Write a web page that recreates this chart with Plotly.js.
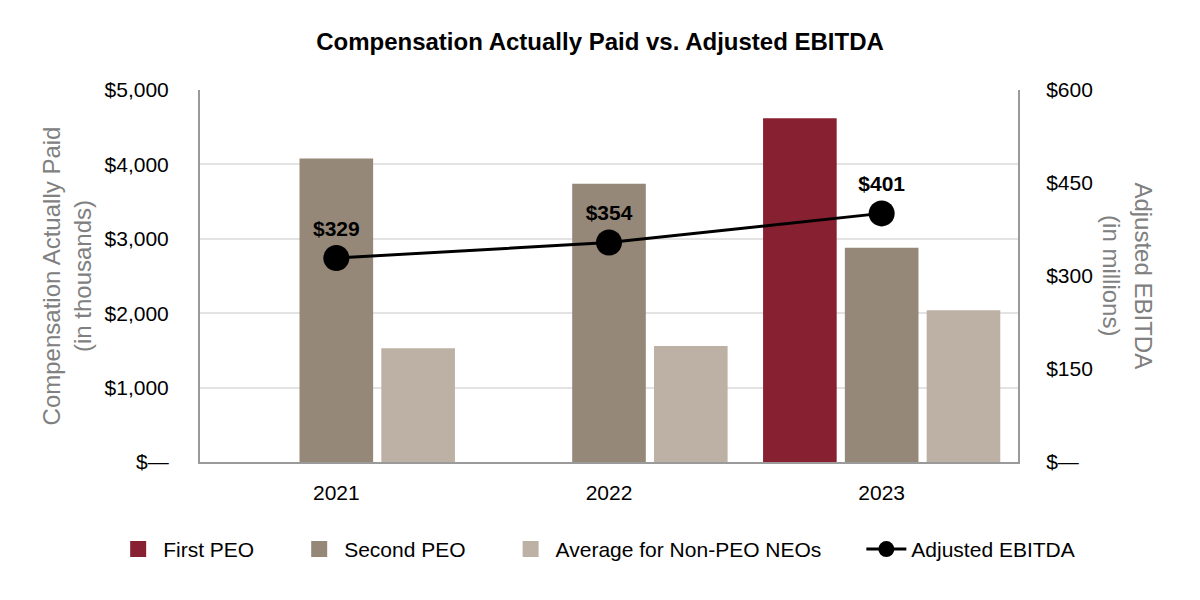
<!DOCTYPE html>
<html>
<head>
<meta charset="utf-8">
<script src="https://cdn.plot.ly/plotly-3.0.1.min.js"></script>
<style>html,body{margin:0;padding:0;background:#fff;}#chart{width:1200px;height:600px;}</style>
</head>
<body>
<div id="chart"></div>
<script>
const years = ["2021", "2022", "2023"];
const firstPEO = [null, null, 4620];
const secondPEO = [4080, 3740, 2880];
const nonPEO = [1530, 1560, 2040];
const ebitda = [329, 354, 401];
const ebitdaLabels = ["$329", "$354", "$401"];
const leftTickVals = [0, 1000, 2000, 3000, 4000, 5000];
const leftTickText = ["$—", "$1,000", "$2,000", "$3,000", "$4,000", "$5,000"];
const rightTickVals = [0, 150, 300, 450, 600];
const rightTickText = ["$—", "$150", "$300", "$450", "$600"];
const seriesNames = ["First PEO", "Second PEO", "Average for Non-PEO NEOs", "Adjusted EBITDA"];
const seriesColors = ["#872131", "#958879", "#BDB1A5", "#000000"];

const FONT = "Liberation Sans, Arial, sans-serif";
const PAD = "\u00a0\u00a0\u00a0\u00a0\u00a0\u00a0";

const traces = [
  {type: "bar", name: seriesNames[0], x: years, y: firstPEO, marker: {color: seriesColors[0]}, showlegend: false},
  {type: "bar", name: seriesNames[1], x: years, y: secondPEO, marker: {color: seriesColors[1]}, showlegend: false},
  {type: "bar", name: seriesNames[2], x: years, y: nonPEO, marker: {color: seriesColors[2]}, showlegend: false},
  {type: "scatter", mode: "lines+markers+text", name: seriesNames[3], x: years, y: ebitda, yaxis: "y2",
   line: {color: "#000", width: 3}, marker: {color: "#000", size: 26},
   text: ebitdaLabels, textposition: "top center", cliponaxis: false, showlegend: false,
   textfont: {family: FONT, size: 21, color: "#000", weight: "bold"}}
];
// legend entries
for (let i = 0; i < 3; i++) {
  traces.push({type: "scatter", mode: "markers", name: seriesNames[i] + PAD, x: [null], y: [null],
    marker: {symbol: "square", size: 22, color: seriesColors[i]}, showlegend: true, legendrank: i + 1});
}
traces.push({type: "scatter", mode: "lines+markers", name: seriesNames[3], x: [null], y: [null], yaxis: "y2",
  line: {color: "#000", width: 3}, marker: {color: "#000", size: 22}, showlegend: true, legendrank: 4});

const layout = {
  width: 1200, height: 600,
  margin: {l: 200, r: 182, t: 90, b: 138},
  paper_bgcolor: "#fff", plot_bgcolor: "#fff",
  font: {family: FONT, size: 21, color: "#000"},
  title: {text: "<b>Compensation Actually Paid vs. Adjusted EBITDA</b>", x: 0.5, xref: "container", y: 0.93, yref: "container", yanchor: "middle", font: {size: 24, color: "#000"}},
  barmode: "group", bargap: 0.1, bargroupgap: 0.1,
  xaxis: {type: "category", showline: true, linecolor: "#9a9a9a", linewidth: 2, ticks: "", ticklabelstandoff: 11, tickfont: {size: 21}},
  yaxis: {range: [0, 5000], tickvals: leftTickVals, ticktext: leftTickText, showgrid: true, gridcolor: "#e3e3e3", gridwidth: 2,
          showline: true, linecolor: "#9a9a9a", linewidth: 2, zeroline: false, ticklabelstandoff: 25, tickfont: {size: 21},
          title: {text: "Compensation Actually Paid<br>(in thousands)", font: {size: 24, color: "#808080"}, standoff: 6}},
  yaxis2: {range: [0, 600], tickvals: rightTickVals, ticktext: rightTickText, overlaying: "y", side: "right", showgrid: false,
           showline: true, linecolor: "#9a9a9a", linewidth: 2, zeroline: false, ticklabelstandoff: 22, tickfont: {size: 21}},
  legend: {orientation: "h", xref: "paper", yref: "paper", x: 1.076, xanchor: "right", y: -0.235, yanchor: "middle", font: {size: 21}, traceorder: "normal", itemwidth: 40},
  annotations: [
    {text: "Adjusted EBITDA<br>(in millions)", xref: "paper", yref: "paper", x: 1.134, y: 0.5, xanchor: "center", yanchor: "middle",
     textangle: 90, showarrow: false, font: {size: 24, color: "#808080"}}
  ]
};

Plotly.newPlot("chart", traces, layout, {displayModeBar: false, staticPlot: true});
</script>
</body>
</html>
